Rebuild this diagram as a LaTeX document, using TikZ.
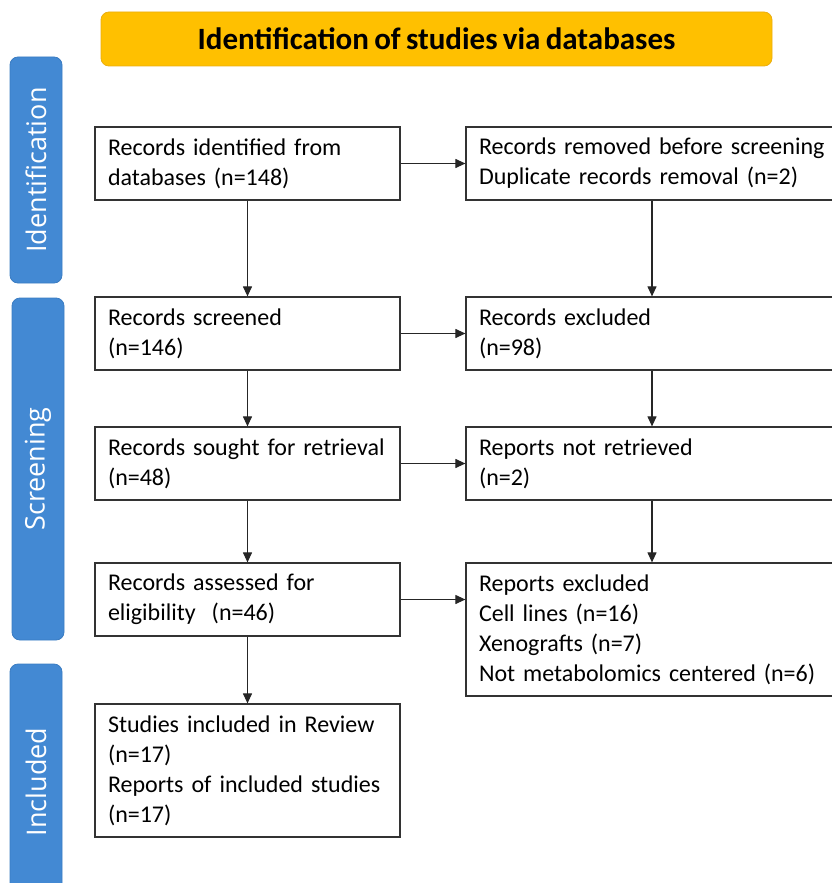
\documentclass[tikz,border=0pt]{standalone}
\usepackage{fontspec}
\setmainfont{Carlito}[WordSpace=0.75]
\newfontfamily\barfont{Open Sans}
\usepackage{tikz}
\usetikzlibrary{arrows.meta}
\usetikzlibrary{positioning}
\definecolor{titleorange}{HTML}{FFC000}
\definecolor{titleedge}{HTML}{EBAE10}
\definecolor{barblue}{HTML}{4389D3}
\definecolor{baredge}{HTML}{3A7CC2}

\begin{document}
\begin{tikzpicture}[x=1pt,y=-1pt]
\tikzstyle{myarrow}=[line width=1.1pt,draw=black!85,-{Triangle[length=10pt,width=9pt]}];
\tikzstyle{box}=[draw=black!80,line width=1.2pt,inner sep=0pt,align=left,
  font=\fontsize{24}{30}\selectfont];
\tikzstyle{leftbox}=[box,minimum width=305pt,text width=279pt];
\tikzstyle{rightbox}=[box,minimum width=372pt,text width=346pt];
\tikzstyle{phase}=[fill=barblue,draw=baredge,line width=0.8pt,rounded corners=8pt,
  rotate=90,minimum height=52pt,text=white,font=\barfont\fontsize{27}{30}\selectfont];

\useasboundingbox (0,0) rectangle (831,883);

% title
\node[fill=titleorange,draw=titleedge,line width=0.8pt,rounded corners=8pt,
  minimum width=671pt,minimum height=54pt,font=\bfseries\fontsize{31}{36}\selectfont]
  (title) at (436.5,39) {Identification of studies via databases};

% phases
\node[phase,minimum width=226pt] (idbar) at (36,170) {Identification};
\node[phase,minimum width=342pt] (scbar) at (38,469) {Screening};
\node[phase,minimum width=236pt] (inbar) at (36,782) {Included};

\def \lx{247.5};
\def \rx{652};

% left column
\node[leftbox,minimum height=73pt] (ident) at (\lx,163.5) {Records identified from\\databases (n=148)};
\node[leftbox,minimum height=73pt] (screen) at (\lx,333.5) {Records screened\\(n=146)};
\node[leftbox,minimum height=73pt] (sought) at (\lx,463.5) {Records sought for retrieval\\(n=48)};
\node[leftbox,minimum height=73pt] (assess) at (\lx,599.5) {Records assessed for\\eligibility\ \ (n=46)};
\node[leftbox,minimum height=133pt] (incl) at (\lx,770.5) {Studies included in Review\\(n=17)\\Reports of included studies\\(n=17)};

% right column
\node[rightbox,minimum height=73pt] (removed) at (\rx,163.5) {Records removed before screening\\Duplicate records removal (n=2)};
\node[rightbox,minimum height=73pt] (excl) at (\rx,333.5) {Records excluded\\(n=98)};
\node[rightbox,minimum height=73pt] (notret) at (\rx,463.5) {Reports not retrieved\\(n=2)};
\node[rightbox,minimum height=133pt] (repexcl) at (\rx,629.5) {Reports excluded\\Cell lines (n=16)\\Xenografts (n=7)\\Not metabolomics centered (n=6)};

\draw[myarrow] (ident) -- (screen);
\draw[myarrow] (screen) -- (sought);
\draw[myarrow] (sought) -- (assess);
\draw[myarrow] (assess) -- (incl);

\draw[myarrow] (removed) -- (excl);
\draw[myarrow] (excl) -- (notret);
\draw[myarrow] (notret) -- (repexcl);

\draw[myarrow] (ident.east) -- (removed.west |- ident.east);
\draw[myarrow] (screen.east) -- (excl.west |- screen.east);
\draw[myarrow] (sought.east) -- (notret.west |- sought.east);
\draw[myarrow] (assess.east) -- (repexcl.west |- assess.east);

\end{tikzpicture}
\end{document}
